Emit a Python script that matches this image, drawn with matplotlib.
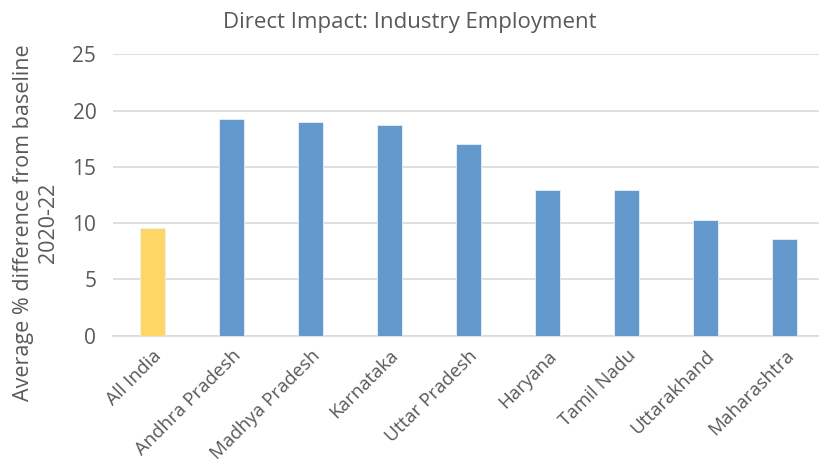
import matplotlib.pyplot as plt
import numpy as np

plt.rcParams['font.family'] = ['Open Sans', 'DejaVu Sans']

states = ["All India", "Andhra Pradesh", "Madhya Pradesh", "Karnataka",
          "Uttar Pradesh", "Haryana", "Tamil Nadu", "Uttarakhand", "Maharashtra"]
impact = [9.6, 19.25, 19.0, 18.7, 17.05, 12.95, 12.9, 10.3, 8.6]

blue = "#6399CC"
yellow = "#FDD666"
text_gray = "#595959"
grid_gray = "#D9D9D9"

fig = plt.figure(figsize=(8.2, 4.68), dpi=100)
ax = fig.add_axes([0.1378, 0.2827, 0.8622, 0.6013])

x = np.arange(len(states))
colors = [yellow] + [blue] * (len(states) - 1)
ax.bar(x, impact, width=0.316, color=colors, edgecolor="#EAF1F8", linewidth=0.6, zorder=3)

ax.set_ylim(0, 25)
ax.set_yticks(range(0, 26, 5))
ax.set_xlim(-0.5, 8.45)
ax.set_xticks(x)
ax.set_xticklabels(states, rotation=45, ha="right", rotation_mode="anchor", fontsize=13.5)

ax.grid(axis="y", color=grid_gray, linewidth=1.2, zorder=0)
for side in ["top", "right", "left"]:
    ax.spines[side].set_visible(False)
ax.spines["bottom"].set_color(grid_gray)
ax.spines["bottom"].set_linewidth(1.2)
ax.tick_params(axis="both", length=0, colors=text_gray)
ax.tick_params(axis="y", pad=12, labelsize=15)
ax.tick_params(axis="x", pad=8)

ax.set_ylabel("Average % difference from baseline\n2020-22", fontsize=15.5,
              color=text_gray, linespacing=1.25)
ax.yaxis.set_label_coords(-0.077, 0.40)
fig.text(0.5, 0.952, "Direct Impact: Industry Employment", ha="center", va="center",
         fontsize=16, color=text_gray)

fig.savefig("out.png", dpi=100)
